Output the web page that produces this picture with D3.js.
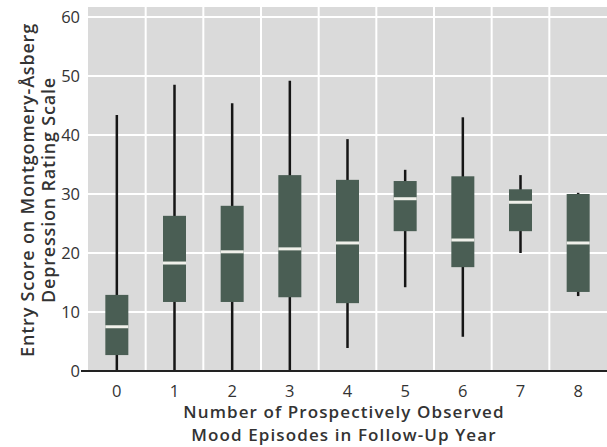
<!DOCTYPE html>
<html>
<head>
<meta charset="utf-8">
<script src="https://cdn.jsdelivr.net/npm/d3@7"></script>
<style>
  body { margin: 0; background: #fff; }
  svg text { font-family: "Open Sans", sans-serif; fill: #333; }
</style>
</head>
<body>
<div id="chart"></div>
<script>
// box plot data
const categories = ["0", "1", "2", "3", "4", "5", "6", "7", "8"];
const whiskerLow  = [0, 0, 0, 0, 3.9, 14.2, 5.8, 20.0, 12.7];
const boxLow      = [2.7, 11.7, 11.7, 12.5, 11.5, 23.7, 17.6, 23.7, 13.4];
const medians     = [7.5, 18.3, 20.2, 20.7, 21.7, 29.2, 22.2, 28.6, 21.7];
const boxHigh     = [12.9, 26.3, 28.0, 33.2, 32.4, 32.2, 33.0, 30.8, 30.0];
const whiskerHigh = [43.4, 48.5, 45.4, 49.2, 39.3, 34.1, 43.0, 33.2, 30.2];
const yTicks = [0, 10, 20, 30, 40, 50, 60];

const width = 607, height = 447;
const plot = { left: 88, right: 607, top: 7, bottom: 371 };

const svg = d3.select("#chart").append("svg")
    .attr("width", width)
    .attr("height", height);

const x = d3.scaleBand()
    .domain(categories)
    .range([plot.left, plot.right]);

const y = d3.scaleLinear()
    .domain([0, 60])
    .range([plot.bottom, 17]);

// grey panel
svg.append("rect")
    .attr("x", plot.left)
    .attr("y", plot.top)
    .attr("width", plot.right - plot.left)
    .attr("height", plot.bottom - plot.top)
    .attr("fill", "#dadada");

// white grid
svg.append("g")
    .selectAll("line")
    .data(yTicks.filter(d => d > 0))
    .join("line")
    .attr("x1", plot.left).attr("x2", plot.right)
    .attr("y1", d => y(d)).attr("y2", d => y(d))
    .attr("stroke", "#fff").attr("stroke-width", 2);

svg.append("g")
    .selectAll("line")
    .data(categories.slice(1))
    .join("line")
    .attr("x1", d => x(d)).attr("x2", d => x(d))
    .attr("y1", plot.top).attr("y2", plot.bottom)
    .attr("stroke", "#fff").attr("stroke-width", 2);

const boxW = 23;
const boxes = svg.append("g")
    .selectAll("g")
    .data(categories)
    .join("g")
    .attr("transform", d => `translate(${x(d) + x.bandwidth() / 2},0)`);

boxes.append("line")
    .attr("y1", (d, i) => y(whiskerLow[i]))
    .attr("y2", (d, i) => y(whiskerHigh[i]))
    .attr("stroke", "#151515").attr("stroke-width", 2.5);

boxes.append("rect")
    .attr("x", -boxW / 2)
    .attr("width", boxW)
    .attr("y", (d, i) => y(boxHigh[i]))
    .attr("height", (d, i) => y(boxLow[i]) - y(boxHigh[i]))
    .attr("fill", "#4a5e54");

boxes.append("line")
    .attr("x1", -boxW / 2).attr("x2", boxW / 2)
    .attr("y1", (d, i) => y(medians[i]))
    .attr("y2", (d, i) => y(medians[i]))
    .attr("stroke", "#f0f0ea").attr("stroke-width", 3);

// x axis line
svg.append("line")
    .attr("x1", plot.left - 7).attr("x2", plot.right)
    .attr("y1", plot.bottom).attr("y2", plot.bottom)
    .attr("stroke", "#222").attr("stroke-width", 2);

// tick labels
svg.append("g")
    .selectAll("text")
    .data(yTicks)
    .join("text")
    .attr("x", 80)
    .attr("y", d => y(d))
    .attr("dy", "0.35em")
    .attr("text-anchor", "end")
    .attr("font-size", 16.5)
    .text(d => d);

svg.append("g")
    .selectAll("text")
    .data(categories)
    .join("text")
    .attr("x", d => x(d) + x.bandwidth() / 2)
    .attr("y", 391)
    .attr("dy", "0.35em")
    .attr("text-anchor", "middle")
    .attr("font-size", 16.5)
    .text(d => d);

// axis titles
const xTitle = svg.append("text")
    .attr("text-anchor", "middle")
    .attr("font-size", 17)
    .attr("font-weight", 600)
    .attr("letter-spacing", 1.1);
xTitle.append("tspan").attr("x", 344).attr("y", 418).text("Number of Prospectively Observed");
xTitle.append("tspan").attr("x", 344).attr("y", 441).text("Mood Episodes in Follow-Up Year");

const yTitle = svg.append("text")
    .attr("transform", "translate(0,190) rotate(-90)")
    .attr("text-anchor", "middle")
    .attr("font-size", 18)
    .attr("font-weight", 600)
    .attr("letter-spacing", 0.8);
yTitle.append("tspan").attr("x", 0).attr("y", 34).text("Entry Score on Montgomery-Åsberg");
yTitle.append("tspan").attr("x", 0).attr("y", 55).text("Depression Rating Scale");
</script>
</body>
</html>
